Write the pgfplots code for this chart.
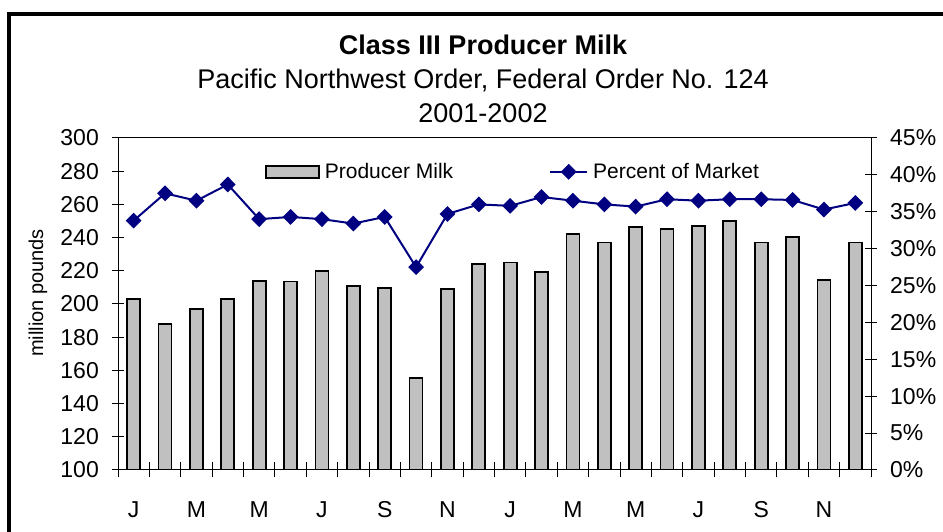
\documentclass[border=0pt]{standalone}
\usepackage{fontspec}
\setmainfont{Liberation Sans}
\usepackage{pgfplots}
\pgfplotsset{compat=1.18}
\definecolor{barGray}{HTML}{C0C0C0}
\definecolor{lineNavy}{HTML}{000080}
\pgfplotsset{
    barlegend/.style={legend image code/.code={\draw[##1] (0pt,-6pt) rectangle (53pt,6pt); \path (56pt,0pt);}},
    linelegend/.style={legend image code/.code={\draw[mark repeat=2, mark phase=2, ##1]
        plot coordinates {(0pt,0pt) (18.5pt,0pt) (37pt,0pt)}; \path (40pt,0pt);}},
}

\begin{document}
\begin{tikzpicture}[x=1pt,y=1pt]
% picture area (943 x 532)
\path[use as bounding box] (0,0) rectangle (943,532);
\draw[line width=4pt] (9,0) -- (9,518) -- (943,518);

\node[anchor=base, font=\fontsize{27}{27}\selectfont\bfseries] at (483,477) {Class III Producer Milk};
\node[anchor=base, font=\fontsize{27}{27}\selectfont] at (483,443) {Pacific Northwest Order, Federal Order No. 124};
\node[anchor=base, font=\fontsize{27}{27}\selectfont] at (483,409) {2001-2002};
\node[rotate=90, font=\fontsize{20}{20}\selectfont] at (38,239) {million pounds};

\begin{axis}[
    at={(118pt,62pt)}, anchor=south west,
    width=753pt, height=332pt, scale only axis,
    xmin=0.5, xmax=24.5,
    ymin=100, ymax=300,
    ytick={100,120,...,300},
    xtick={1,3,...,23},
    xticklabels={J,M,M,J,S,N,J,M,M,J,S,N},
    minor xtick={0.5,1.5,...,24.5},
    xtick pos=left, ytick pos=left,
    tick align=center,
    major tick length=12pt,
    minor tick length=15pt,
    major x tick style={draw=none},
    minor x tick style={black, line width=1pt},
    major y tick style={black, line width=1pt},
    axis line style={black, line width=1pt},
    /pgf/number format/assume math mode=true,
    ticklabel style={font=\fontsize{23}{23}\selectfont},
    yticklabel style={anchor=east, inner sep=0pt, xshift=-13pt},
    xticklabel style={anchor=base, inner sep=0pt, yshift=-42pt},
]
\addplot[ybar, bar width=13pt, fill=barGray, draw=black, line width=1.8pt] coordinates {
    (1,203) (2,188) (3,197) (4,203) (5,214) (6,213.5)
    (7,220) (8,211) (9,209.5) (10,155.5) (11,209) (12,224)
    (13,225) (14,219.5) (15,242) (16,237) (17,246.5) (18,245)
    (19,247) (20,250) (21,237) (22,240.5) (23,214.5) (24,237)
};
\end{axis}

\begin{axis}[
    at={(118pt,62pt)}, anchor=south west,
    width=753pt, height=332pt, scale only axis,
    xmin=0.5, xmax=24.5,
    ymin=0, ymax=45,
    ytick={0,5,...,45},
    hide x axis,
    axis y line*=right,
    tick align=center,
    major tick length=12pt,
    major y tick style={black, line width=1pt},
    axis line style={black, line width=1pt},
    /pgf/number format/assume math mode=true,
    yticklabel={\pgfmathprintnumber{\tick}\%},
    ticklabel style={font=\fontsize{23}{23}\selectfont},
    yticklabel style={anchor=west, inner sep=0pt, xshift=13pt},
    legend columns=2,
    legend style={at={(0.195,0.898)}, anchor=west, draw=none, fill=none,
        inner sep=0pt, font=\fontsize{21}{21}\selectfont,
        /tikz/every even column/.append style={column sep=94pt}},
]
\addlegendimage{fill=barGray, draw=black, line width=1.8pt, barlegend}
\addlegendentry{Producer Milk}
\addplot[color=lineNavy, line width=2pt, mark=diamond*,
    mark size=6.5pt, mark options={xscale=1.33, solid, fill=lineNavy},
    linelegend] coordinates {
    (1,33.8) (2,37.5) (3,36.5) (4,38.7) (5,34.0) (6,34.3)
    (7,34.0) (8,33.4) (9,34.3) (10,27.5) (11,34.7) (12,36.0)
    (13,35.8) (14,37.0) (15,36.5) (16,36.0) (17,35.7) (18,36.7)
    (19,36.5) (20,36.7) (21,36.7) (22,36.6) (23,35.3) (24,36.2)
};
\addlegendentry{Percent of Market}
\end{axis}
\end{tikzpicture}
\end{document}
